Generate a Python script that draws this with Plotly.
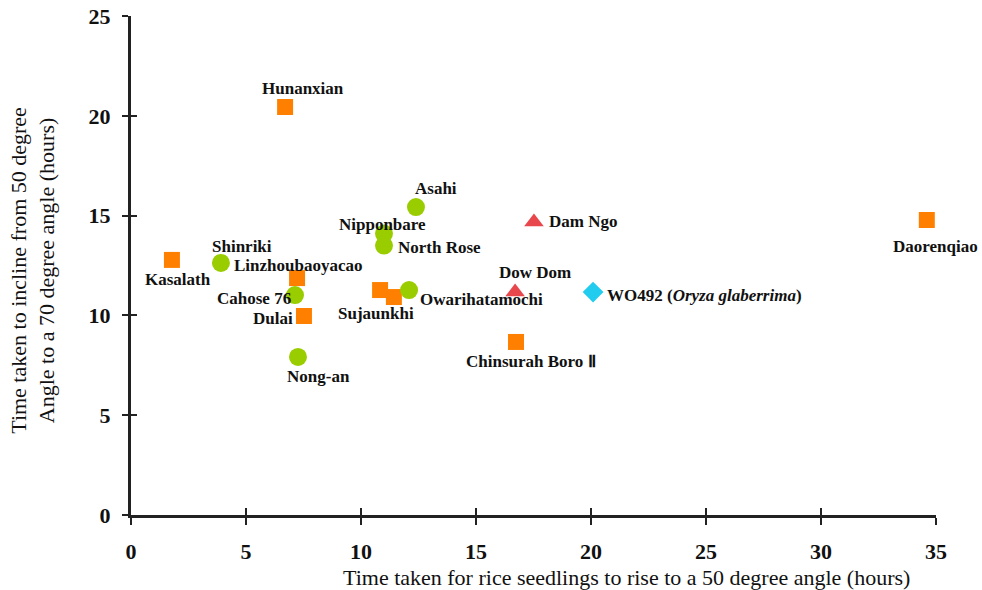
import plotly.graph_objects as go

# ---- data ----
sq_names = ["Hunanxian", "Kasalath", "Linzhoubaoyacao", "Dulai", "", "Sujaunkhi",
            "Chinsurah Boro Ⅱ", "Daorenqiao"]
sq_x = [6.70, 1.78, 7.22, 7.52, 10.83, 11.43, 16.74, 34.60]
sq_y = [20.44, 12.78, 11.87, 9.97, 11.27, 10.92, 8.67, 14.78]

ci_names = ["Shinriki", "Cahose 76", "Nong-an", "Nipponbare", "North Rose", "Asahi",
            "Owarihatamochi"]
ci_x = [3.91, 7.13, 7.26, 11.00, 11.00, 12.39, 12.09]
ci_y = [12.63, 11.02, 7.92, 14.10, 13.50, 15.43, 11.27]

tr_names = ["Dow Dom", "Dam Ngo"]
tr_x = [16.70, 17.52]
tr_y = [11.17, 14.68]

di_names = ["WO492 (<i>Oryza glaberrima</i>)"]
di_x = [20.09]
di_y = [11.17]

x_ticks = [0, 5, 10, 15, 20, 25, 30, 35]
y_ticks = [0, 5, 10, 15, 20, 25]

# label offsets (pixels) and anchors, keyed by name
label_pos = {
    "Hunanxian": (18, 19, "center"),
    "Kasalath": (6, -20, "center"),
    "Linzhoubaoyacao": (1, 13, "center"),
    "Dulai": (-9, -2, "right"),
    "Sujaunkhi": (-18, -16, "center"),
    "Chinsurah Boro Ⅱ": (15, -20, "center"),
    "Daorenqiao": (9, -27, "center"),
    "Shinriki": (21, 16, "center"),
    "Cahose 76": (-2, -3, "right"),
    "Nong-an": (21, -20, "center"),
    "Nipponbare": (-2, 9, "center"),
    "North Rose": (12, -2, "left"),
    "Asahi": (20, 19, "center"),
    "Owarihatamochi": (9, -9, "left"),
    "Dow Dom": (20, 20, "center"),
    "Dam Ngo": (13, 0, "left"),
    "WO492 (<i>Oryza glaberrima</i>)": (12, -3, "left"),
}

SERIF = "Liberation Serif, Times New Roman, serif"

fig = go.Figure()
fig.add_trace(go.Scatter(x=sq_x, y=sq_y, mode="markers",
                         marker=dict(symbol="square", size=16, color="#FF8000"),
                         hoverinfo="skip"))
fig.add_trace(go.Scatter(x=ci_x, y=ci_y, mode="markers",
                         marker=dict(symbol="circle", size=18, color="#9ACD00"),
                         hoverinfo="skip"))
fig.add_trace(go.Scatter(x=tr_x, y=tr_y, mode="markers",
                         marker=dict(symbol="triangle-up", size=17, color="#E8474C"),
                         hoverinfo="skip"))
fig.add_trace(go.Scatter(x=di_x, y=di_y, mode="markers",
                         marker=dict(symbol="diamond", size=16, color="#22CCEE"),
                         hoverinfo="skip"))
# invisible trace for the overlay axes (inside tick halves)
fig.add_trace(go.Scatter(x=[x_ticks[0]], y=[y_ticks[0]], mode="markers",
                         marker=dict(opacity=0), xaxis="x2", yaxis="y2",
                         hoverinfo="skip"))

for names, xs, ys in [(sq_names, sq_x, sq_y), (ci_names, ci_x, ci_y),
                      (tr_names, tr_x, tr_y), (di_names, di_x, di_y)]:
    for n, xv, yv in zip(names, xs, ys):
        if not n:
            continue
        dx, dy, anc = label_pos[n]
        fig.add_annotation(x=xv, y=yv, text="<b>" + n + "</b>", showarrow=False,
                           xshift=dx, yshift=dy, xanchor=anc, yanchor="middle",
                           font=dict(family=SERIF, size=17, color="#111"))

axis_common = dict(showgrid=False, zeroline=False, automargin=False)
fig.update_layout(
    width=982, height=590,
    margin=dict(l=131, r=46, t=16, b=75),
    paper_bgcolor="white", plot_bgcolor="white",
    showlegend=False,
    xaxis=dict(range=[0, 35], tickvals=x_ticks, ticks="outside", ticklen=7,
               tickwidth=2, tickcolor="#222", showline=True, linewidth=3,
               linecolor="#222", ticklabelstandoff=8,
               tickfont=dict(family=SERIF, size=22, color="#111", weight="bold"),
               **axis_common),
    yaxis=dict(range=[0, 25], tickvals=y_ticks, ticks="outside", ticklen=6,
               tickwidth=2, tickcolor="#222", showline=True, linewidth=3,
               linecolor="#222", ticklabelstandoff=7,
               tickfont=dict(family=SERIF, size=22, color="#111", weight="bold"),
               **axis_common),
    xaxis2=dict(range=[0, 35], tickvals=x_ticks, ticks="inside", ticklen=7,
                tickwidth=2, tickcolor="#222", showticklabels=False,
                overlaying="x", anchor="y2", showline=False, **axis_common),
    yaxis2=dict(range=[0, 25], tickvals=y_ticks, ticks="inside", ticklen=6,
                tickwidth=2, tickcolor="#222", showticklabels=False,
                overlaying="y", anchor="x2", showline=False, **axis_common),
)

fig.add_annotation(xref="paper", yref="paper", x=0.616, y=-0.126,
                   xanchor="center", yanchor="middle", showarrow=False,
                   text="Time taken for rice seedlings to rise to a 50 degree angle (hours)",
                   font=dict(family=SERIF, size=22, color="#111"))
fig.add_annotation(xref="paper", yref="paper", x=-0.122, y=0.491,
                   xanchor="center", yanchor="middle", showarrow=False, textangle=-90,
                   text="Time taken to incline from 50 degree<br>Angle to a 70 degree angle (hours)",
                   font=dict(family=SERIF, size=22, color="#111"))

fig.write_html("out.html")
